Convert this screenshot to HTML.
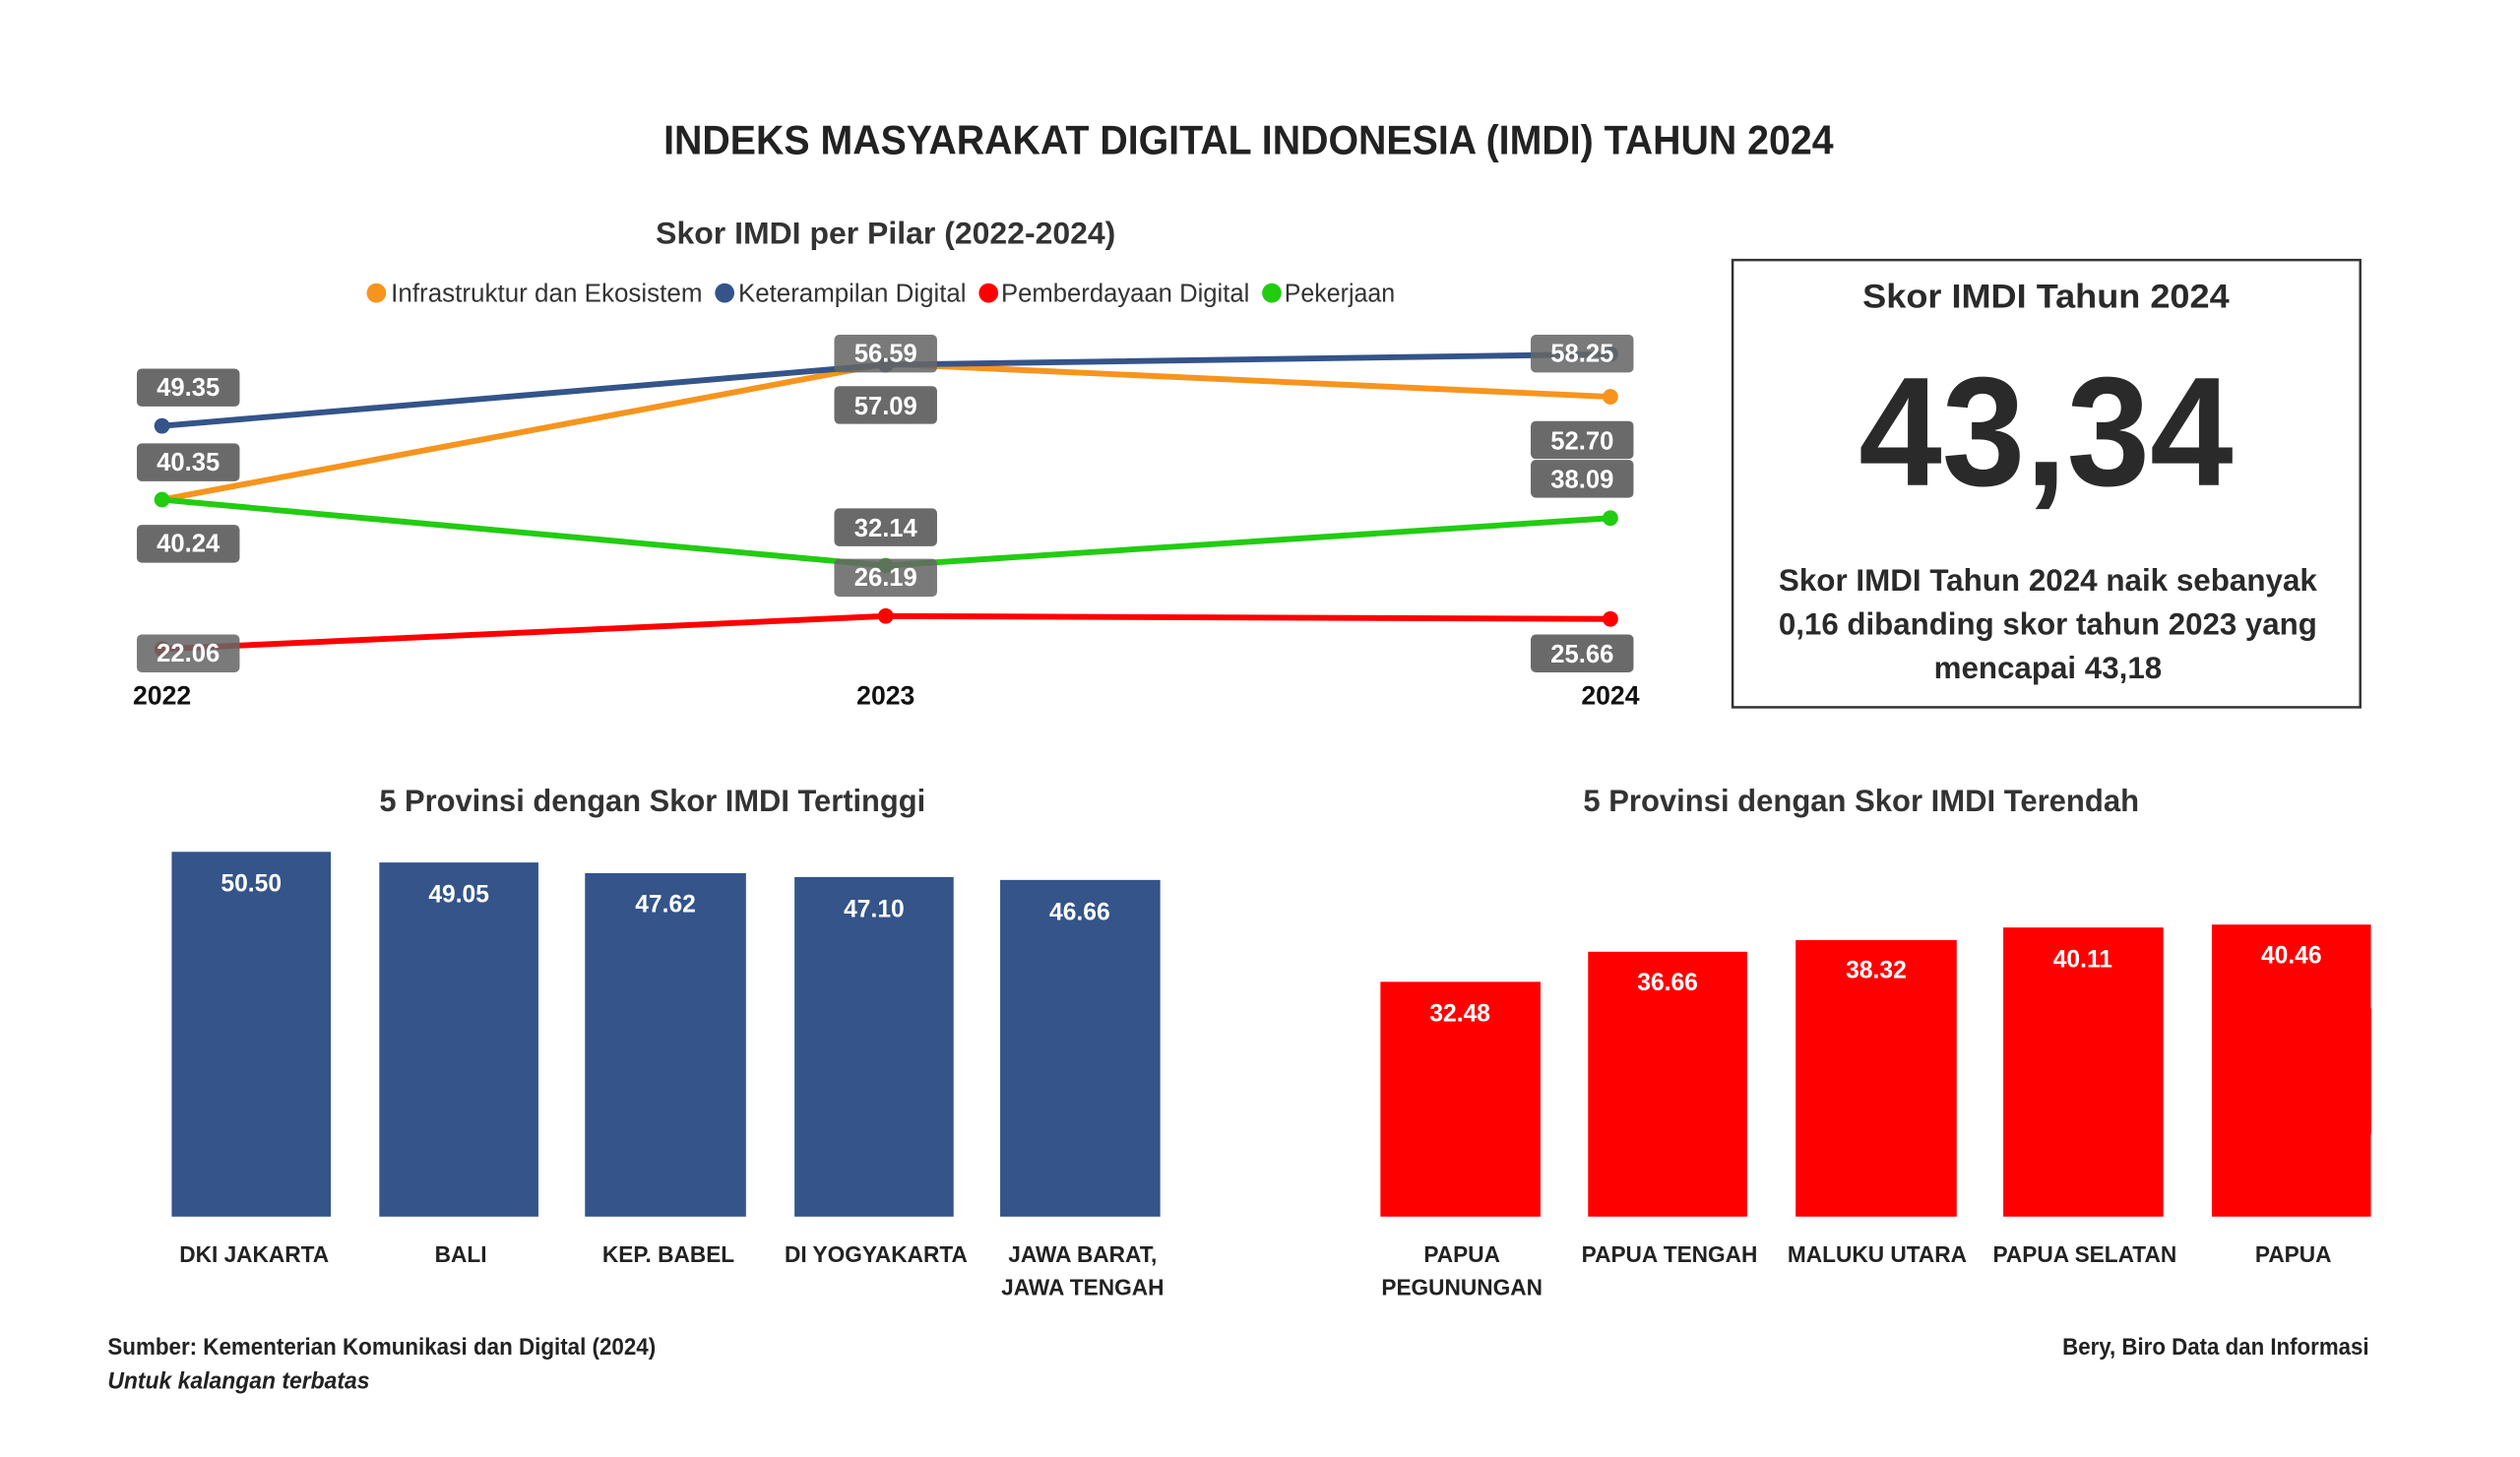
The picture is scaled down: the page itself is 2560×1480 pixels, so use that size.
<!DOCTYPE html>
<html><head><meta charset="utf-8"><style>html,body{margin:0;padding:0;background:#fff}svg{display:block}</style></head>
<body>
<svg width="2560" height="1480" viewBox="0 0 2560 1480" xmlns="http://www.w3.org/2000/svg" font-family="Liberation Sans, sans-serif" font-weight="bold">
<rect width="2560" height="1480" fill="#fff"/>
<g transform="scale(0.9855)">
<text x="684" y="159" font-size="42" fill="#222" textLength="1206" lengthAdjust="spacingAndGlyphs">INDEKS MASYARAKAT DIGITAL INDONESIA (IMDI) TAHUN 2024</text>
<text x="676" y="251" font-size="32" fill="#333" textLength="474" lengthAdjust="spacingAndGlyphs">Skor IMDI per Pilar (2022-2024)</text>
<g font-weight="normal" font-size="26" fill="#333">
<circle cx="388" cy="302" r="10" fill="#f7941d"/><text x="403" y="311" textLength="321" lengthAdjust="spacingAndGlyphs">Infrastruktur dan Ekosistem</text>
<circle cx="747" cy="302" r="10" fill="#34548a"/><text x="761" y="311" textLength="235" lengthAdjust="spacingAndGlyphs">Keterampilan Digital</text>
<circle cx="1019" cy="302" r="10" fill="#ff0000"/><text x="1032" y="311" textLength="256" lengthAdjust="spacingAndGlyphs">Pemberdayaan Digital</text>
<circle cx="1311" cy="302" r="10" fill="#22cc11"/><text x="1324" y="311" textLength="114" lengthAdjust="spacingAndGlyphs">Pekerjaan</text>
</g>
<g fill="none" stroke-width="6" stroke-linecap="round">
<polyline points="167,515 913,375 1660,409" stroke="#f7941d"/>
<polyline points="167,439 913,376 1660,365" stroke="#34548a"/>
<polyline points="167,669 913,635 1660,638" stroke="#ff0000"/>
<polyline points="167,515 913,583 1660,534" stroke="#22cc11"/>
</g>
<g>
<circle cx="167" cy="439" r="8" fill="#34548a"/><circle cx="913" cy="376" r="8" fill="#34548a"/><circle cx="1660" cy="365" r="8" fill="#34548a"/>
<circle cx="1660" cy="409" r="8" fill="#f7941d"/>
<circle cx="167" cy="515" r="8" fill="#22cc11"/><circle cx="913" cy="583" r="8" fill="#22cc11"/><circle cx="1660" cy="534" r="8" fill="#22cc11"/>
<circle cx="167" cy="669" r="8" fill="#ff0000"/><circle cx="913" cy="635" r="8" fill="#ff0000"/><circle cx="1660" cy="638" r="8" fill="#ff0000"/>
</g>
<g fill="#666" opacity="0.97">
<rect x="141" y="380" width="106" height="39" rx="5"/>
<rect x="141" y="457" width="106" height="39" rx="5"/>
<rect x="141" y="541" width="106" height="39" rx="5"/>
<rect x="141" y="654" width="106" height="39" rx="5" opacity="0.9"/>
<rect x="860" y="345" width="106" height="39" rx="5" opacity="0.9"/>
<rect x="860" y="398" width="106" height="39" rx="5"/>
<rect x="860" y="524" width="106" height="39" rx="5"/>
<rect x="860" y="576" width="106" height="39" rx="5" opacity="0.9"/>
<rect x="1578" y="345" width="106" height="39" rx="5" opacity="0.9"/>
<rect x="1578" y="434" width="106" height="39" rx="5"/>
<rect x="1578" y="474" width="106" height="39" rx="5"/>
<rect x="1578" y="654" width="106" height="39" rx="5"/>
</g>
<g fill="#fff" font-size="26" text-anchor="middle">
<text x="194" y="408">49.35</text><text x="194" y="485">40.35</text><text x="194" y="569">40.24</text><text x="194" y="682">22.06</text>
<text x="913" y="373">56.59</text><text x="913" y="427">57.09</text><text x="913" y="553">32.14</text><text x="913" y="604">26.19</text>
<text x="1631" y="373">58.25</text><text x="1631" y="463">52.70</text><text x="1631" y="503">38.09</text><text x="1631" y="683">25.66</text>
</g>
<g font-size="27" fill="#111" text-anchor="middle">
<text x="167" y="726">2022</text><text x="913" y="726">2023</text><text x="1660" y="726">2024</text>
</g>
<rect x="1786" y="268" width="647" height="461" fill="none" stroke="#333" stroke-width="2.5"/>
<g text-anchor="middle" fill="#2a2a2a">
<text x="2109" y="317" font-size="35" textLength="378" lengthAdjust="spacingAndGlyphs">Skor IMDI Tahun 2024</text>
<text x="2109" y="500" font-size="160" textLength="386" lengthAdjust="spacingAndGlyphs">43,34</text>
<text x="2111" y="609" font-size="32" textLength="555" lengthAdjust="spacingAndGlyphs">Skor IMDI Tahun 2024 naik sebanyak</text>
<text x="2111" y="654" font-size="32" textLength="555" lengthAdjust="spacingAndGlyphs">0,16 dibanding skor tahun 2023 yang</text>
<text x="2111" y="699" font-size="32" textLength="235" lengthAdjust="spacingAndGlyphs">mencapai 43,18</text>
</g>
<text x="391" y="836" font-size="32" fill="#333" textLength="563" lengthAdjust="spacingAndGlyphs">5 Provinsi dengan Skor IMDI Tertinggi</text>
<text x="1632" y="836" font-size="32" fill="#333" textLength="573" lengthAdjust="spacingAndGlyphs">5 Provinsi dengan Skor IMDI Terendah</text>
<g fill="#34548a">
<rect x="177" y="878" width="164" height="376"/><rect x="391" y="889" width="164" height="365"/><rect x="603" y="900" width="166" height="354"/><rect x="819" y="904" width="164" height="350"/><rect x="1031" y="907" width="165" height="347"/>
</g>
<g fill="#ff0000">
<rect x="1423" y="1012" width="165" height="242"/><rect x="1637" y="981" width="164" height="273"/><rect x="1851" y="969" width="166" height="285"/><rect x="2065" y="956" width="165" height="298"/><rect x="2280" y="953" width="164" height="301"/>
</g>
<g fill="#fff" font-size="25" text-anchor="middle">
<text x="259" y="919">50.50</text><text x="473" y="930">49.05</text><text x="686" y="940">47.62</text><text x="901" y="945">47.10</text><text x="1113" y="948">46.66</text>
<text x="1505" y="1053">32.48</text><text x="1719" y="1021">36.66</text><text x="1934" y="1008">38.32</text><text x="2147" y="997">40.11</text><text x="2362" y="993">40.46</text>
</g>
<g fill="#222" font-size="23" text-anchor="middle">
<text x="262" y="1301">DKI JAKARTA</text><text x="475" y="1301">BALI</text><text x="689" y="1301">KEP. BABEL</text><text x="903" y="1301">DI YOGYAKARTA</text><text x="1116" y="1301">JAWA BARAT,</text><text x="1116" y="1335">JAWA TENGAH</text>
<text x="1507" y="1301">PAPUA</text><text x="1507" y="1335">PEGUNUNGAN</text><text x="1721" y="1301">PAPUA TENGAH</text><text x="1935" y="1301">MALUKU UTARA</text><text x="2149" y="1301">PAPUA SELATAN</text><text x="2364" y="1301">PAPUA</text>
</g>
<text x="111" y="1396" font-size="24" fill="#222" textLength="565" lengthAdjust="spacingAndGlyphs">Sumber: Kementerian Komunikasi dan Digital (2024)</text>
<text x="111" y="1431" font-size="24" fill="#222" font-style="italic" textLength="270" lengthAdjust="spacingAndGlyphs">Untuk kalangan terbatas</text>
<text x="2442" y="1396" font-size="24" fill="#222" text-anchor="end" textLength="316" lengthAdjust="spacingAndGlyphs">Bery, Biro Data dan Informasi</text>
</g>
</svg>
</body></html>
